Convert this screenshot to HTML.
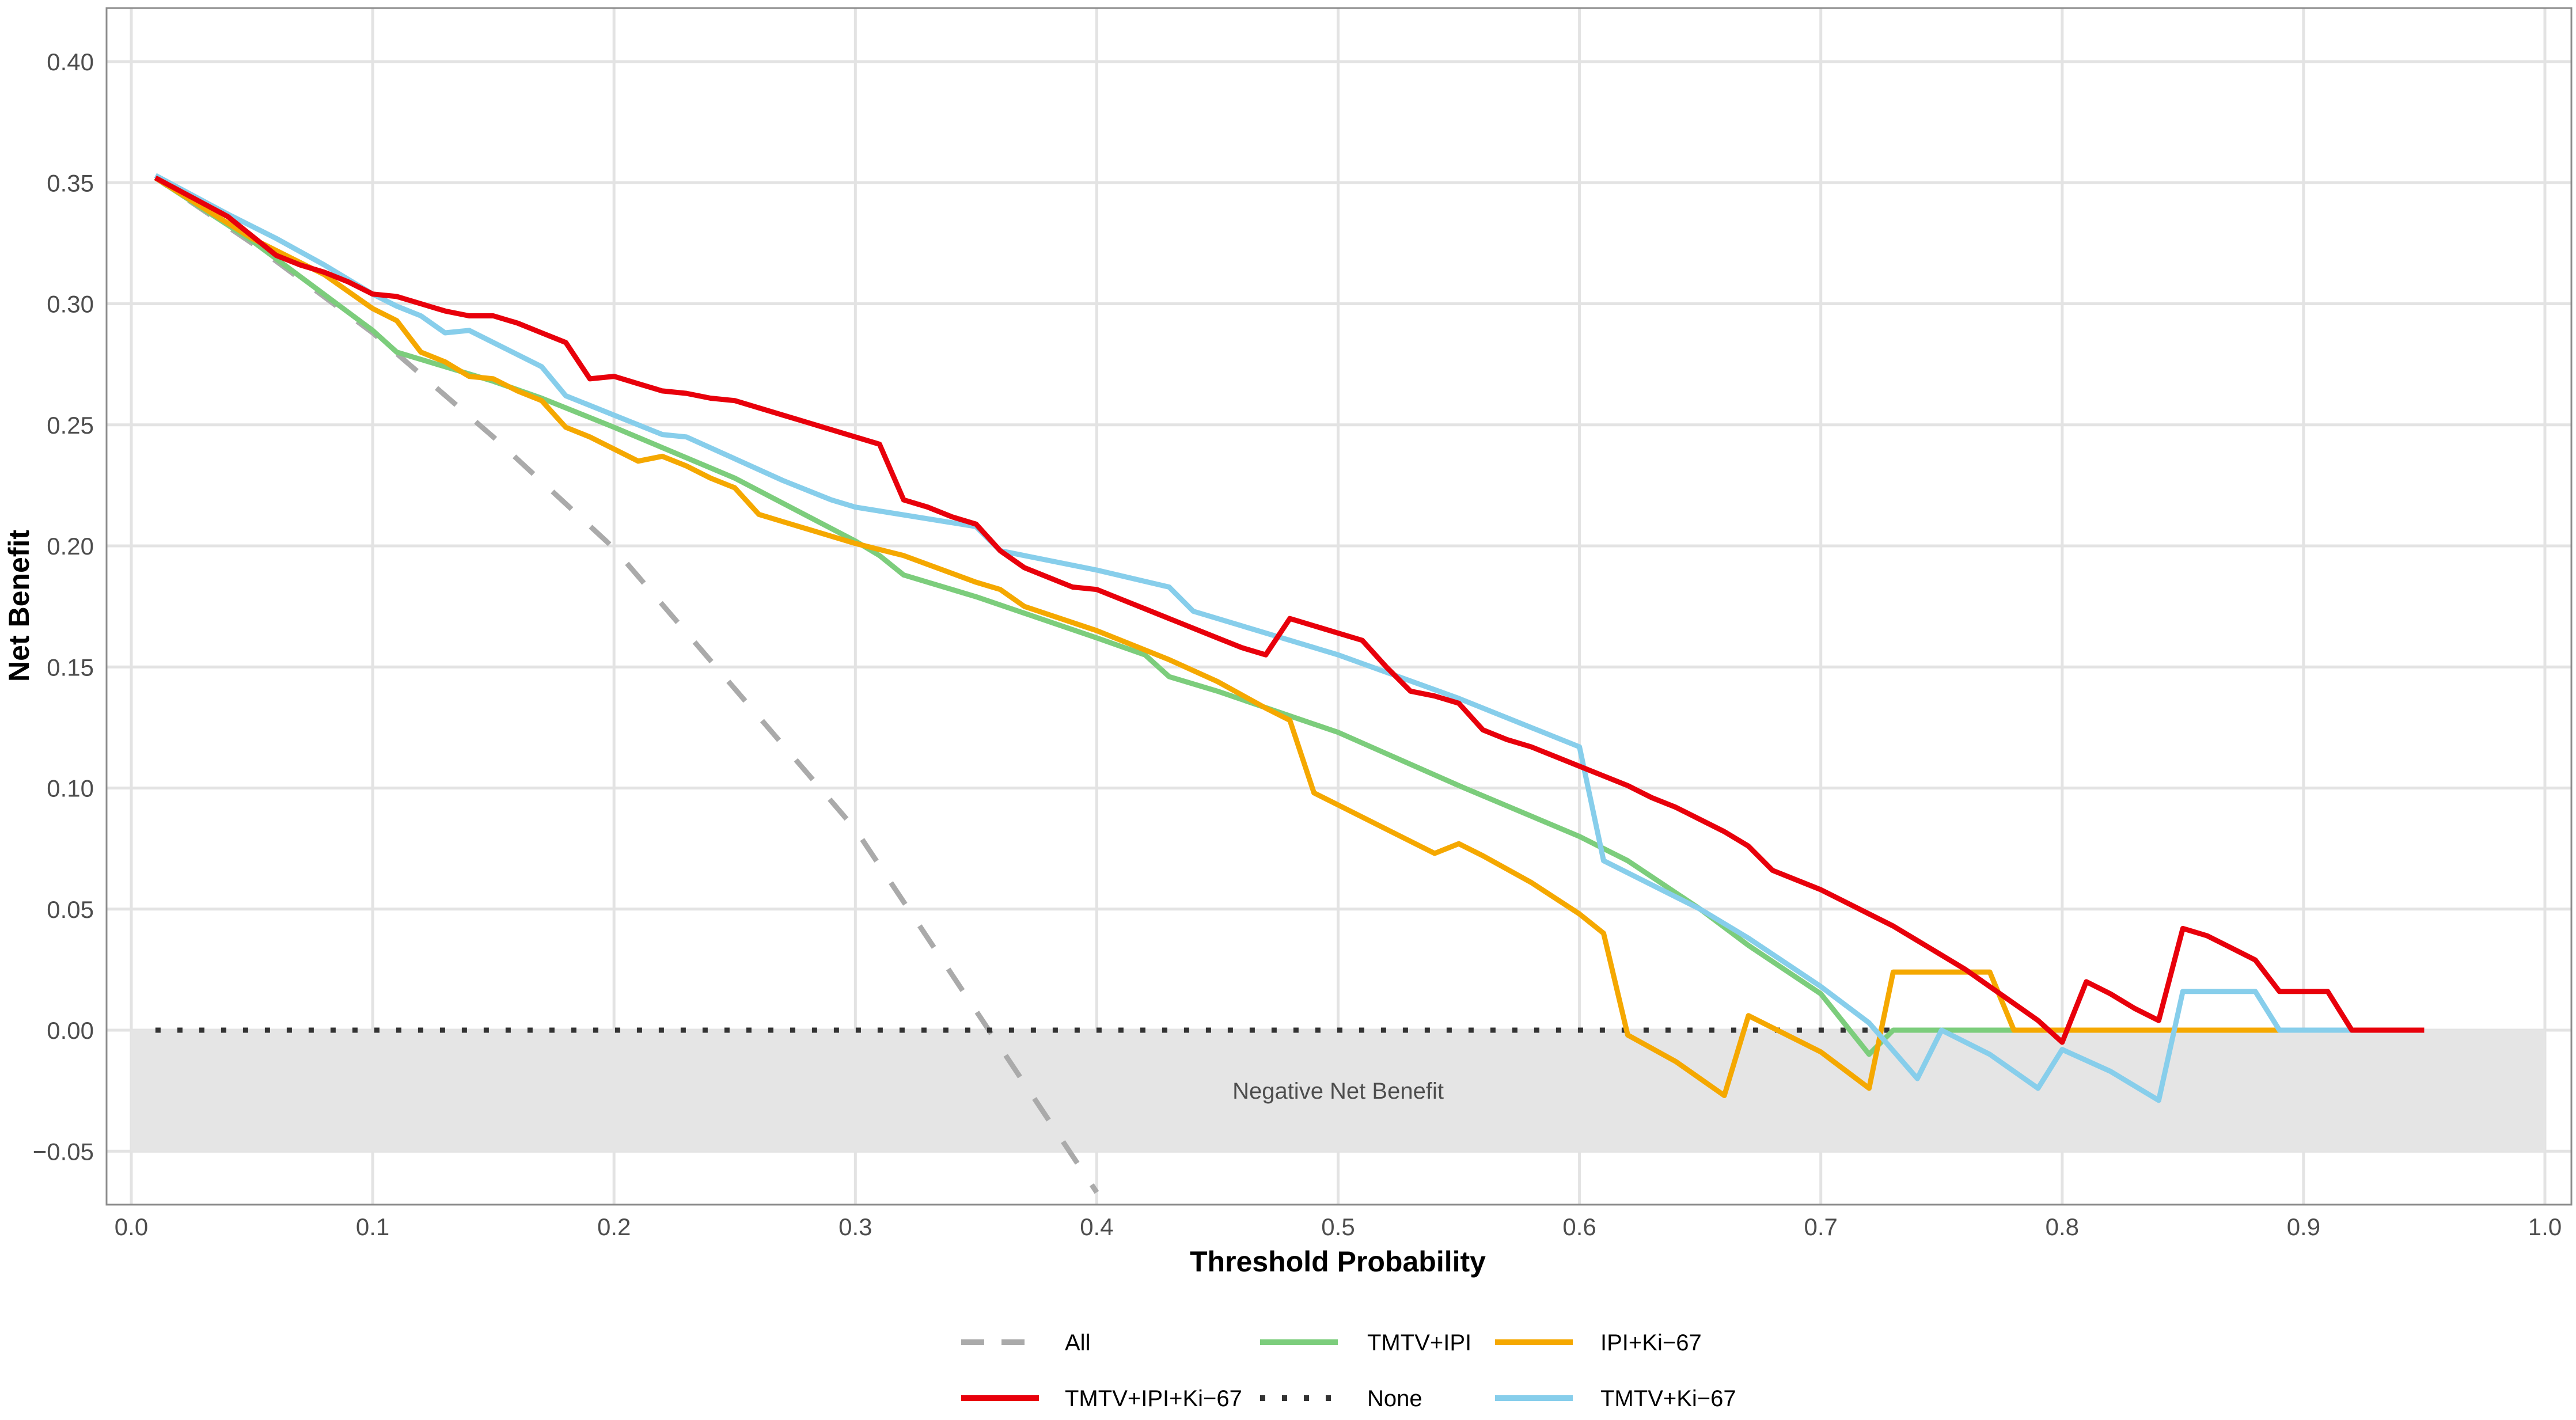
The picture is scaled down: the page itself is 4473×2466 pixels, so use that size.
<!DOCTYPE html>
<html><head><meta charset="utf-8"><style>
html,body{margin:0;padding:0;background:#fff;}
svg{display:block;font-family:"Liberation Sans",Arial,sans-serif;}
</style></head><body>
<svg id="chart" width="4473" height="2466" viewBox="0 0 4473 2466" xmlns="http://www.w3.org/2000/svg">
<g id="grid"></g>
<rect id="negreg" fill="#e5e5e5"/>
<text id="negtext" font-size="40" fill="#4d4d4d" text-anchor="middle">Negative Net Benefit</text>
<g id="series"></g>
<rect x="185" y="14" width="4280" height="2078" fill="none" stroke="#8c8c8c" stroke-width="3"/>
<g id="yticks"></g>
<g id="xticks"></g>
<text x="2323" y="2208" font-size="50" font-weight="bold" text-anchor="middle" fill="#000">Threshold Probability</text>
<text transform="translate(50,1052) rotate(-90)" font-size="50" font-weight="bold" text-anchor="middle" fill="#000">Net Benefit</text>
<g id="legend"></g>
</svg>
<script>
const xTicks=[0,0.1,0.2,0.3,0.4,0.5,0.6,0.7,0.8,0.9,1.0];
const xTickLabels=["0.0","0.1","0.2","0.3","0.4","0.5","0.6","0.7","0.8","0.9","1.0"];
const yTicks=[-0.05,0,0.05,0.10,0.15,0.20,0.25,0.30,0.35,0.40];
const yTickLabels=["\u22120.05","0.00","0.05","0.10","0.15","0.20","0.25","0.30","0.35","0.40"];

const allX=[0.01,0.05,0.10,0.15,0.20,0.25,0.30,0.35,0.40];
const allY=[0.352,0.325,0.288,0.245,0.199,0.141,0.083,0.008,-0.067];
const noneX=[0.01,0.89];
const noneY=[0,0];
const greenX=[0.01,0.05,0.10,0.11,0.12,0.15,0.17,0.20,0.25,0.30,0.31,0.32,0.35,0.40,0.42,0.43,0.45,0.50,0.55,0.60,0.62,0.65,0.67,0.70,0.72,0.73,0.89];
const greenY=[0.352,0.326,0.289,0.280,0.277,0.268,0.261,0.249,0.228,0.202,0.196,0.188,0.179,0.162,0.155,0.146,0.140,0.123,0.101,0.080,0.070,0.050,0.035,0.015,-0.010,0,0];
const orangeX=[0.01,0.05,0.08,0.10,0.11,0.12,0.13,0.14,0.15,0.16,0.17,0.18,0.19,0.20,0.21,0.22,0.23,0.24,0.25,0.26,0.27,0.28,0.30,0.32,0.35,0.36,0.37,0.40,0.43,0.45,0.47,0.48,0.49,0.50,0.52,0.54,0.55,0.56,0.58,0.60,0.61,0.62,0.64,0.66,0.67,0.68,0.70,0.72,0.73,0.77,0.78,0.89];
const orangeY=[0.352,0.327,0.312,0.298,0.293,0.280,0.276,0.270,0.269,0.264,0.260,0.249,0.245,0.240,0.235,0.237,0.233,0.228,0.224,0.213,0.210,0.207,0.201,0.196,0.185,0.182,0.175,0.165,0.153,0.144,0.133,0.128,0.098,0.093,0.083,0.073,0.077,0.072,0.061,0.048,0.040,-0.002,-0.013,-0.027,0.006,0.001,-0.009,-0.024,0.024,0.024,0,0];
const redX=[0.01,0.04,0.05,0.06,0.07,0.08,0.09,0.10,0.11,0.12,0.13,0.14,0.15,0.16,0.17,0.18,0.19,0.20,0.21,0.22,0.23,0.24,0.25,0.26,0.27,0.28,0.29,0.30,0.31,0.32,0.33,0.34,0.35,0.36,0.37,0.38,0.39,0.40,0.41,0.42,0.43,0.44,0.45,0.46,0.47,0.48,0.49,0.50,0.51,0.52,0.53,0.54,0.55,0.56,0.57,0.58,0.59,0.60,0.61,0.62,0.63,0.64,0.65,0.66,0.67,0.68,0.69,0.70,0.71,0.72,0.73,0.74,0.75,0.76,0.77,0.78,0.79,0.80,0.81,0.82,0.83,0.84,0.85,0.86,0.87,0.88,0.89,0.90,0.91,0.92,0.95];
const redY=[0.352,0.336,0.328,0.320,0.316,0.313,0.309,0.304,0.303,0.300,0.297,0.295,0.295,0.292,0.288,0.284,0.269,0.270,0.267,0.264,0.263,0.261,0.260,0.257,0.254,0.251,0.248,0.245,0.242,0.219,0.216,0.212,0.209,0.198,0.191,0.187,0.183,0.182,0.178,0.174,0.170,0.166,0.162,0.158,0.155,0.170,0.167,0.164,0.161,0.150,0.140,0.138,0.135,0.124,0.120,0.117,0.113,0.109,0.105,0.101,0.096,0.092,0.087,0.082,0.076,0.066,0.062,0.058,0.053,0.048,0.043,0.037,0.031,0.025,0.018,0.011,0.004,-0.005,0.020,0.015,0.009,0.004,0.042,0.039,0.034,0.029,0.016,0.016,0.016,0,0];
const blueX=[0.01,0.04,0.06,0.08,0.10,0.11,0.12,0.13,0.14,0.15,0.17,0.18,0.20,0.22,0.23,0.25,0.27,0.29,0.30,0.35,0.36,0.40,0.43,0.44,0.50,0.55,0.58,0.60,0.61,0.65,0.67,0.70,0.72,0.74,0.75,0.77,0.79,0.80,0.82,0.84,0.85,0.88,0.89,0.95];
const blueY=[0.353,0.337,0.327,0.316,0.304,0.299,0.295,0.288,0.289,0.284,0.274,0.262,0.254,0.246,0.245,0.236,0.227,0.219,0.216,0.208,0.198,0.190,0.183,0.173,0.155,0.137,0.125,0.117,0.070,0.050,0.038,0.018,0.003,-0.020,0,-0.010,-0.024,-0.008,-0.017,-0.029,0.016,0.016,0,0];

const X0=228,X1=4419,Y0=1789,YPU=4205;
const sx=v=>X0+v*(X1-X0);
const sy=v=>Y0-v*YPU;
const NS="http://www.w3.org/2000/svg";
function mk(tag,attrs,parent){const e=document.createElementNS(NS,tag);for(const k in attrs)e.setAttribute(k,attrs[k]);parent.appendChild(e);return e;}

const grid=document.getElementById('grid');
xTicks.forEach(t=>{const l=mk('line',{x1:sx(t),x2:sx(t),y1:14,y2:2092,stroke:'#e3e3e3','stroke-width':5},grid);

});
yTicks.forEach(t=>{const l=mk('line',{x1:185,x2:4465,y1:sy(t),y2:sy(t),stroke:'#e3e3e3','stroke-width':5},grid);

});

const nr=document.getElementById('negreg');
nr.setAttribute('x',sx(0));nr.setAttribute('width',sx(1)-sx(0));
nr.setAttribute('y',sy(0));nr.setAttribute('height',sy(-0.05)-sy(0));
const nt=document.getElementById('negtext');
nt.setAttribute('x',sx(0.5));nt.setAttribute('y',sy(-0.025)+14);

const yt=document.getElementById('yticks');
yTicks.forEach((t,i)=>{const e=mk('text',{x:163,y:sy(t)+15,'font-size':42,fill:'#4d4d4d','text-anchor':'end'},yt);e.textContent=yTickLabels[i];

});
const xt=document.getElementById('xticks');
xTicks.forEach((t,i)=>{const e=mk('text',{x:sx(t),y:2145,'font-size':42,fill:'#4d4d4d','text-anchor':'middle'},xt);e.textContent=xTickLabels[i];

});

const ser=document.getElementById('series');
function line(xs,ys,color,dash,name,off){const d=xs.map((x,i)=>(i?'L':'M')+sx(x).toFixed(1)+' '+sy(ys[i]).toFixed(1)).join(' ');
const p=mk('path',{d:d,fill:'none',stroke:color,'stroke-width':9,'stroke-linejoin':'round'},ser);
if(dash)p.setAttribute('stroke-dasharray',dash);
if(off)p.setAttribute('stroke-dashoffset',off);

}
line(allX,allY,'#aaaaaa','45 45','series-all',20);
line(noneX,noneY,'#333333','9 29','series-none');
line(greenX,greenY,'#7ccd7c',null,'series-tmtv-ipi');
line(orangeX,orangeY,'#f5a800',null,'series-ipi-ki67');
line(blueX,blueY,'#87ceeb',null,'series-tmtv-ki67');
line(redX,redY,'#e8000b',null,'series-tmtv-ipi-ki67');

const lg=document.getElementById('legend');
const entries=[
 {k:1669,t:1849,y:2331,c:'#aaaaaa',d:'40 30',l:'All',n:'legend-entry-all'},
 {k:2188,t:2374,y:2331,c:'#7ccd7c',d:null,l:'TMTV+IPI',n:'legend-entry-tmtv-ipi'},
 {k:2596,t:2779,y:2331,c:'#f5a800',d:null,l:'IPI+Ki\u221267',n:'legend-entry-ipi-ki67'},
 {k:1669,t:1849,y:2428,c:'#e8000b',d:null,l:'TMTV+IPI+Ki\u221267',n:'legend-entry-tmtv-ipi-ki67'},
 {k:2188,t:2374,y:2428,c:'#333333',d:'9 29',l:'None',n:'legend-entry-none'},
 {k:2596,t:2779,y:2428,c:'#87ceeb',d:null,l:'TMTV+Ki\u221267',n:'legend-entry-tmtv-ki67'}];
entries.forEach(e=>{const g=mk('g',{},lg);


const l=mk('line',{x1:e.k,x2:e.k+135,y1:e.y,y2:e.y,stroke:e.c,'stroke-width':10},g);
if(e.d)l.setAttribute('stroke-dasharray',e.d);
const t=mk('text',{x:e.t,y:e.y+14,'font-size':40,fill:'#000'},g);t.textContent=e.l;});
</script>
</body></html>
